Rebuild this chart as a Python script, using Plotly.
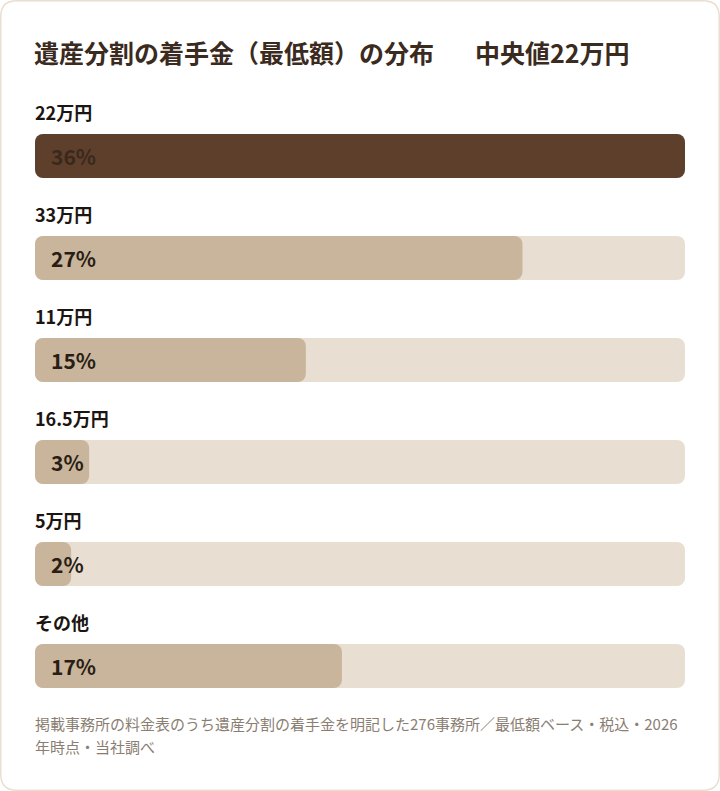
import plotly.graph_objects as go

categories = ["22万円", "33万円", "11万円", "16.5万円", "5万円", "その他"]
shares = [36, 27, 15, 3, 2, 17]
pct_labels = ["36%", "27%", "15%", "3%", "2%", "17%"]
highlight = "22万円"

title_main = "遺産分割の着手金（最低額）の分布"
title_median = "中央値22万円"
note_lines = [
    "掲載事務所の料金表のうち遺産分割の着手金を明記した276事務所／最低額ベース・税込・2026",
    "年時点・当社調べ",
]

W, H = 720, 791
FONT = "Noto Sans CJK JP"
DARK = "#5e3f2b"
LIGHT = "#c8b59b"
TRACK = "#e9ded2"

def px_x(p):
    return p / W

def px_y(p):
    return 1 - p / H

vmax = max(shares)
n = len(categories)
bar_w = 44 / 102
fill_colors = [DARK if c == highlight else LIGHT for c in categories]

fig = go.Figure()

track = [vmax] * n
fig.add_trace(go.Bar(y=categories, x=track, base=[0] * n,
                     orientation="h", width=bar_w, marker=dict(color=TRACK, line=dict(width=0)),
                     hoverinfo="skip", showlegend=False))
fig.add_trace(go.Bar(y=categories, x=shares, base=[0] * n,
                     orientation="h", width=bar_w, marker=dict(color=fill_colors, line=dict(width=0)),
                     hoverinfo="skip", showlegend=False))

annotations = []
annotations.append(dict(text="<b>" + title_main + "</b>", xref="paper", yref="paper",
                        x=px_x(35), xshift=-3, y=px_y(52), xanchor="left", yanchor="middle",
                        showarrow=False, font=dict(family=FONT, size=25, color="#3b2a1e")))
annotations.append(dict(text="<b>" + title_median + "</b>", xref="paper", yref="paper",
                        x=px_x(476), xshift=-3, y=px_y(52), xanchor="left", yanchor="middle",
                        showarrow=False, font=dict(family=FONT, size=25, color="#3b2a1e")))
for c, lab in zip(categories, pct_labels):
    annotations.append(dict(text=c, xref="paper", yref="y", x=px_x(35), xshift=-2, y=c, yshift=44,
                            xanchor="left", yanchor="middle", showarrow=False,
                            font=dict(family=FONT, size=18, color="#1c1612", weight=600)))
    col = "#3a281c" if c == highlight else "#2a1d14"
    annotations.append(dict(text="<b>" + lab + "</b>", xref="x", yref="y", x=0, y=c, xshift=14,
                            xanchor="left", yanchor="middle", showarrow=False,
                            font=dict(family=FONT, size=21, color=col)))
for i, line in enumerate(note_lines):
    annotations.append(dict(text=line, xref="paper", yref="paper", x=px_x(35), xshift=-2,
                            y=px_y(723 + 23.5 * i), xanchor="left", yanchor="middle", showarrow=False,
                            font=dict(family=FONT, size=15, color="#8a7e72")))

r = 16
x0, x1, y0, y1 = 0.75, W - 0.75, 0.75, H - 0.75
def P(x, y):
    return f"{px_x(x):.5f},{px_y(y):.5f}"
path = (f"M {P(x0 + r, y0)} L {P(x1 - r, y0)} Q {P(x1, y0)} {P(x1, y0 + r)} "
        f"L {P(x1, y1 - r)} Q {P(x1, y1)} {P(x1 - r, y1)} L {P(x0 + r, y1)} "
        f"Q {P(x0, y1)} {P(x0, y1 - r)} L {P(x0, y0 + r)} Q {P(x0, y0)} {P(x0 + r, y0)} Z")

fig.update_layout(
    width=W, height=H, margin=dict(l=0, r=0, t=0, b=0),
    paper_bgcolor="white", plot_bgcolor="rgba(0,0,0,0)",
    barmode="overlay", barcornerradius=8,
    xaxis=dict(domain=[px_x(35), px_x(685)], range=[0, vmax], visible=False, fixedrange=True),
    yaxis=dict(domain=[px_y(717), px_y(105)], categoryorder="array", categoryarray=categories,
               range=[n - 0.5, -0.5], autorange=False, visible=False, fixedrange=True),
    annotations=annotations,
    shapes=[dict(type="path", xref="paper", yref="paper", path=path,
                 line=dict(color="#e8dfd0", width=1.5), fillcolor="rgba(0,0,0,0)", layer="below")],
    font=dict(family=FONT),
    showlegend=False,
)

fig.write_html("out.html", config=dict(displayModeBar=False, staticPlot=True),
               post_script="document.body.style.margin='0';document.body.style.overflow='hidden';")
